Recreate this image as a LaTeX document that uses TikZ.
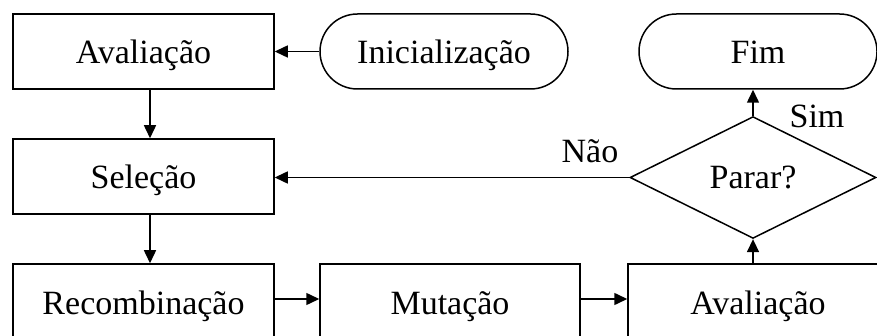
\documentclass[tikz,border=0pt]{standalone}
\usepackage{fontspec}
\setmainfont{Liberation Serif}
\usetikzlibrary{arrows.meta,shapes.geometric,shapes.misc}
\begin{document}
\begin{tikzpicture}[x=1pt,y=-1pt,
  box/.style={draw,line width=1.5pt,rectangle,minimum width=261pt,minimum height=75pt,inner sep=0pt,text height=30pt,text depth=5pt},
  term/.style={draw,line width=1.5pt,rounded rectangle,minimum height=75pt,inner sep=0pt,text height=30pt,text depth=5pt},
  dec/.style={draw,line width=1.5pt,diamond,minimum width=246pt,minimum height=101pt,inner sep=0pt,text height=29pt,text depth=6pt},
  lbl/.style={inner sep=0pt,anchor=base},
  conn/.style={line width=1.5pt,-{Triangle[length=13pt,width=12pt]}},
  font=\fontsize{34}{40}\selectfont]
\useasboundingbox (0,0) rectangle (877,336);
\clip (0,0) rectangle (877,336);
\node[box] (av1) at (143.5,51.5) {Avaliação};
\node[term,minimum width=248pt] (ini) at (444,51.5) {Inicialização};
\node[term,minimum width=238pt] (fim) at (758,51.5) {Fim};
\node[box] (sel) at (143.5,176.5) {Seleção};
\node[dec] (par) at (753,177.5) {Parar?};
\node[box] (rec) at (143.5,301.5) {Recombinação};
\node[box,minimum width=260pt] (mut) at (450,301.5) {Mutação};
\node[box,minimum width=260pt] (av2) at (758,301.5) {Avaliação};
\node[lbl] (nao) at (590,163) {Não};
\node[lbl] (sim) at (817,128) {Sim};
\draw[conn] (ini) -- (av1);
\draw[conn] ([xshift=6.5pt]av1.south) -- ([xshift=6.5pt]sel.north);
\draw[conn] (par.west) -- (par.west -| sel.east);
\draw[conn] ([xshift=6.5pt]sel.south) -- ([xshift=6.5pt]rec.north);
\draw[conn] ([yshift=2.5pt]rec.east) -- ([yshift=2.5pt]mut.west);
\draw[conn] ([yshift=2.5pt]mut.east) -- ([yshift=2.5pt]av2.west);
\draw[conn] (par.south |- av2.north) -- (par.south);
\draw[conn] (par.north) -- (par.north |- fim.south);
\end{tikzpicture}
\end{document}
